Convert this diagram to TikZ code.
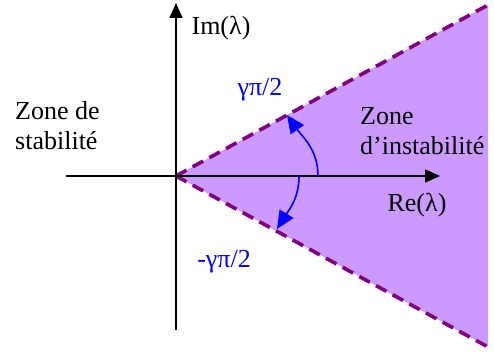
\documentclass[tikz,border=0pt]{standalone}
\usepackage{fontspec}
\setmainfont{Liberation Serif}
\usetikzlibrary{positioning, arrows.meta}
\definecolor{zonefill}{RGB}{204,153,255}
\definecolor{zoneedge}{RGB}{128,0,128}
\tikzset{
    axisarr/.style={-{Triangle[length=15pt, width=13pt]}, line width=1.6pt, color=black},
    anglearr/.style={-{Triangle[length=18pt, width=16pt]}, line width=1.6pt, color=blue},
    borderline/.style={dashed, dash pattern=on 12pt off 7pt, line width=3.6pt, color=zoneedge},
    zonelbl/.style={font=\fontsize{26}{30}\selectfont, align=left, inner sep=0pt},
    axislbl/.style={font=\fontsize{26}{30}\selectfont, inner sep=0pt},
    anglelbl/.style={font=\fontsize{26}{30}\selectfont, text=blue, inner sep=0pt}
}
\begin{document}
\begin{tikzpicture}[x=1pt, y=1pt]
    \useasboundingbox (0,0) rectangle (494,352);
    \coordinate (O) at (176,176);
    \coordinate (T) at (488,347);
    \coordinate (B) at (488,5);
    \coordinate (xmin) at (66,176);
    \coordinate (xmax) at (440,176);
    \coordinate (ymin) at (176,22);
    \coordinate (ymax) at (176,349);
    % unstable zone
    \fill[zonefill] (O) -- (T) -- (B) -- cycle;
    \draw[borderline] (O) -- (T);
    \draw[borderline] (O) -- (B);
    % axes
    \draw[axisarr] (xmin) -- (xmax);
    \draw[axisarr] (ymin) -- (ymax);
    % angles
    \coordinate (a1) at (318,176);
    \coordinate (a1tip) at (287,237);
    \coordinate (a2) at (299,176);
    \coordinate (a2tip) at (277,123);
    \draw[anglearr] (a1) to[out=90, in=-55] (a1tip);
    \draw[anglearr] (a2) to[out=-90, in=58] (a2tip);
    % labels
    \node[axislbl] (im) at (221,324) {Im(λ)};
    \node[axislbl] (re) at (417,147) {Re(λ)};
    \node[anglelbl] (gp) at (260,262) {γπ/2};
    \node[anglelbl] (gm) at (224,90) {-γπ/2};
    \node[zonelbl, anchor=west] (zi) at (360,221) {Zone\\d’instabilité};
    \node[zonelbl, anchor=west] (zs) at (15,226) {Zone de\\stabilité};
\end{tikzpicture}
\end{document}
